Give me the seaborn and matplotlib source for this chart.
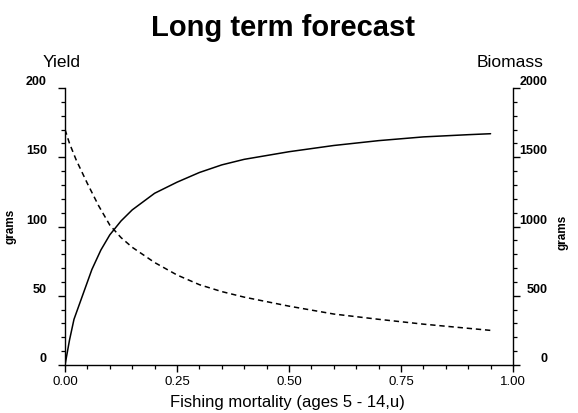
import matplotlib
matplotlib.use('Agg')

import matplotlib.pyplot as plt
import matplotlib.ticker as mticker
import pandas as pd
import seaborn as sns


# ---------------------------------------------------
# Data
# ---------------------------------------------------

yield_f = [0, 0.01, 0.02, 0.04, 0.06, 0.08, 0.10, 0.125, 0.15, 0.20,
           0.25, 0.30, 0.35, 0.40, 0.50, 0.60, 0.70, 0.80, 0.90, 0.95]
yield_grams = [0, 18, 33, 51, 69, 83, 94, 104, 112, 124,
               132, 139, 144.5, 148.5, 154, 158.5, 162, 164.7, 166.3, 167]

biomass_f = [0, 0.01, 0.025, 0.05, 0.075, 0.10, 0.125, 0.15, 0.20, 0.25,
             0.30, 0.35, 0.40, 0.50, 0.60, 0.70, 0.80, 0.90, 0.95]
biomass_grams = [1700, 1600, 1480, 1310, 1150, 1010, 920, 850, 740, 650,
                 580, 530, 490, 425, 368, 330, 295, 265, 250]

x_ticks = [0.00, 0.25, 0.50, 0.75, 1.00]
x_tick_labels = ['0.00', '0.25', '0.50', '0.75', '1.00']
yield_ticks = [0, 50, 100, 150, 200]
biomass_ticks = [0, 500, 1000, 1500, 2000]

df_yield = pd.DataFrame({'F': yield_f, 'Yield': yield_grams})
df_biomass = pd.DataFrame({'F': biomass_f, 'Biomass': biomass_grams})


# ---------------------------------------------------
# Style
# ---------------------------------------------------

sns.set_style('ticks')
plt.rcParams['font.family'] = ['Liberation Sans', 'DejaVu Sans']
plt.rcParams['axes.linewidth'] = 1.0
for key in ['text.color', 'axes.labelcolor', 'xtick.color',
            'ytick.color', 'axes.edgecolor']:
    plt.rcParams[key] = 'black'


# ---------------------------------------------------
# Long term forecast plot
# ---------------------------------------------------

fig = plt.figure(figsize=(5.78, 4.13), dpi=100)
ax = fig.add_axes([0.1125, 0.1162, 0.775, 0.6707])
ax2 = ax.twinx()

sns.lineplot(data=df_yield, x='F', y='Yield', ax=ax,
             color='black', linewidth=1.1)
sns.lineplot(data=df_biomass, x='F', y='Biomass', ax=ax2,
             color='black', linewidth=1.1, dashes=False)
ax2.lines[0].set_dashes([3.5, 2.5])

ax.set_xlim(0, 1)
ax.set_ylim(0, 200)
ax2.set_ylim(0, 2000)

ax.set_xticks(x_ticks)
ax.set_xticklabels(x_tick_labels)
ax.xaxis.set_minor_locator(mticker.MultipleLocator(0.05))
ax.set_yticks(yield_ticks)
ax.yaxis.set_minor_locator(mticker.MultipleLocator(10))
ax2.set_yticks(biomass_ticks)
ax2.yaxis.set_minor_locator(mticker.MultipleLocator(100))

for a in (ax, ax2):
    a.spines['top'].set_visible(False)
    a.tick_params(which='major', length=5, width=1.0, labelsize=9)
    a.tick_params(which='minor', length=3, width=0.9)
ax.spines['right'].set_visible(False)
ax2.spines['left'].set_visible(False)
ax2.spines['bottom'].set_visible(False)
ax.tick_params(axis='y', pad=8)
ax.tick_params(axis='x', pad=3, labelsize=9.5)
ax2.tick_params(axis='y', pad=20)

for lbl in ax.get_yticklabels():
    lbl.set_va('bottom')
    lbl.set_fontweight('bold')
for lbl in ax2.get_yticklabels():
    lbl.set_va('bottom')
    lbl.set_ha('right')
    lbl.set_fontweight('bold')

ax.set_ylabel('grams', fontsize=8.5, fontweight='bold')
ax.yaxis.set_label_coords(-0.109, 0.5)
ax2.set_ylabel('grams', fontsize=8.5, fontweight='bold', rotation=90)
ax2.yaxis.set_label_coords(1.098, 0.48)

ax.set_xlabel('Fishing mortality (ages 5 - 14,u)', fontsize=12)
ax.xaxis.set_label_coords(0.496, -0.134)
ax.xaxis.label.set_va('center')

fig.text(0.107, 0.838, 'Yield', fontsize=12.5, ha='center', va='baseline')
fig.text(0.882, 0.838, 'Biomass', fontsize=12.5, ha='center', va='baseline')
fig.text(0.49, 0.913, 'Long term forecast', fontsize=21,
         fontweight='bold', ha='center', va='baseline')

plt.savefig('out.png', dpi=100)
plt.close()
